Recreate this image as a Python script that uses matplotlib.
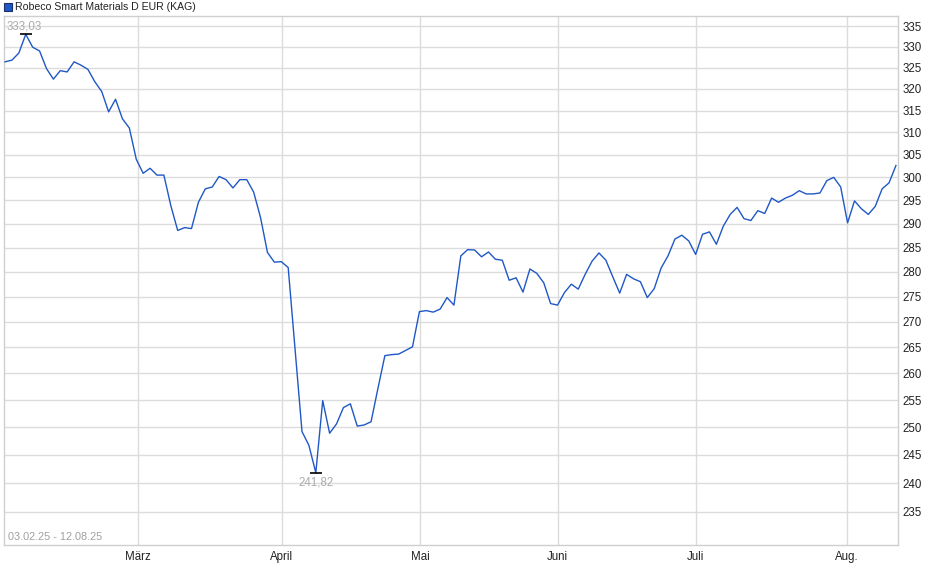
import matplotlib
matplotlib.use("Agg")
import matplotlib.pyplot as plt
from matplotlib.patches import Rectangle
from matplotlib.ticker import FixedLocator, NullLocator, FixedFormatter
import numpy as np

plt.rcParams['font.family'] = ['Liberation Sans', 'DejaVu Sans']

title = "Robeco Smart Materials D EUR (KAG)"
date_range = "03.02.25 - 12.08.25"

values = [
    326.4, 326.8, 328.5, 333.03, 329.9, 329.0, 324.8, 322.3, 324.3, 324.0,
    326.4, 325.6, 324.6, 321.7, 319.4, 314.7, 317.6, 313.1, 311.0, 304.0,
    300.9, 302.0, 300.5,
    300.5, 293.9, 288.6, 289.2, 289.0, 294.6, 297.5, 297.9, 300.2, 299.5,
    297.7, 299.5, 299.5, 296.8, 291.3, 284.0, 282.0, 282.1, 280.9,
    264.7, 249.2, 246.7, 241.82, 254.9, 248.9, 250.6, 253.6, 254.3, 250.2,
    250.4, 251.0, 257.2, 263.4, 263.6, 263.7, 264.4, 265.1, 272.0, 272.2,
    271.9, 272.5,
    274.8, 273.3, 283.3, 284.6, 284.5, 283.1, 284.1, 282.6, 282.4, 278.3,
    278.8, 275.9, 280.6, 279.7, 277.8, 273.6, 273.3, 275.8, 277.5, 276.5,
    279.5, 282.2, 283.9, 282.4, 279.0, 275.7, 279.5, 278.6, 278.0, 274.8,
    276.6, 280.8, 283.3, 286.8, 287.6, 286.4, 283.6, 287.8, 288.3, 285.7,
    289.5, 292.0, 293.5,
    291.1, 290.7, 292.8, 292.2, 295.5, 294.6, 295.5, 296.1, 297.1, 296.4,
    296.4, 296.6, 299.3, 300.0, 297.9, 290.2, 294.9, 293.2, 292.0, 293.7,
    297.5, 298.8, 302.6,
]

month_labels = ["März", "April", "Mai", "Juni", "Juli", "Aug."]
month_pos = [19.2, 40.1, 60.1, 80.0, 100.0, 121.9]
y_ticks = list(range(235, 340, 5))

line_color = "#1f58c6"
grid_color = "#dcdcdc"

W, H = 940, 579
fig = plt.figure(figsize=(W / 100, H / 100), dpi=100)
ax = fig.add_axes([4 / W, 34 / H, (898 - 4) / W, (545 - 16) / H])

x = np.arange(len(values))
ax.plot(x, values, color=line_color, lw=1.0, zorder=3)

ax.set_yscale('log')
ax.set_ylim(229.4, 337.5)
ax.set_xlim(-0.15, 129.3)

ax.yaxis.set_major_locator(FixedLocator(y_ticks))
ax.yaxis.set_major_formatter(FixedFormatter([str(t) for t in y_ticks]))
ax.yaxis.set_minor_locator(NullLocator())
ax.yaxis.tick_right()
ax.xaxis.set_major_locator(FixedLocator(month_pos))
ax.xaxis.set_major_formatter(FixedFormatter(month_labels))
ax.xaxis.set_minor_locator(NullLocator())

ax.tick_params(axis='y', length=0, pad=3, labelsize=8.3, labelcolor='#222222')
ax.tick_params(axis='x', length=0, pad=4, labelsize=8.3, labelcolor='#222222')
ax.grid(True, color=grid_color, lw=1.0, zorder=0)
for s in ax.spines.values():
    s.set_color('#cfcfcf')
    s.set_linewidth(1.0)

# max / min annotations
imax = int(np.argmax(values))
imin = int(np.argmin(values))
ax.plot([imax], [values[imax]], marker='_', color='black', ms=9, mew=1.2, zorder=4, clip_on=False)
ax.plot([imin], [values[imin]], marker='_', color='black', ms=9, mew=1.2, zorder=4, clip_on=False)
ax.annotate(f"{values[imax]:.2f}".replace('.', ','), (imax, values[imax]),
            xytext=(-1, 1.5), textcoords='offset points', ha='center', va='bottom',
            fontsize=8.3, color='#ababab', annotation_clip=False, zorder=5)
ax.annotate(f"{values[imin]:.2f}".replace('.', ','), (imin, values[imin]),
            xytext=(0, -3), textcoords='offset points', ha='center', va='top',
            fontsize=8.3, color='#ababab', annotation_clip=False, zorder=5)

ax.text(4 / (898 - 4), 0.006, date_range, transform=ax.transAxes, ha='left', va='bottom',
        fontsize=7.8, color='#a0a0a0')

# legend-like title
fig.patches.append(Rectangle((4 / W, 1 - 11 / H), 8 / W, 8 / H, transform=fig.transFigure,
                             facecolor=line_color, edgecolor='#1a2f66', lw=0.8))
fig.text(15 / W, 1 - 6.5 / H, title, ha='left', va='center', fontsize=7.6, color='#222222')

fig.savefig("out.png", dpi=100)
